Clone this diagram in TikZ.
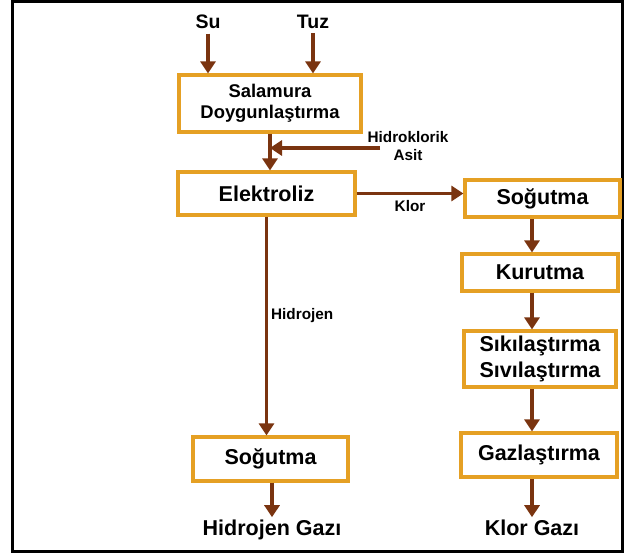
\documentclass[tikz,border=0pt]{standalone}
\usepackage{fontspec}
\setmainfont{Liberation Sans}
\usetikzlibrary{arrows.meta}
\definecolor{boxorange}{HTML}{E5A024}
\definecolor{flowbrown}{HTML}{7A3410}
\tikzset{
    box/.style={draw=boxorange, line width=3.2pt, fill=white, align=center, inner sep=0pt,
        font=\fontsize{21.5}{26}\bfseries\selectfont},
    flow/.style={draw=flowbrown, line width=3.3pt, -{Triangle[width=15pt,length=12pt]}},
    lbl/.style={font=\fontsize{15.3}{18}\bfseries\selectfont, align=center, inner sep=0pt},
    big/.style={font=\fontsize{21.5}{26}\bfseries\selectfont, inner sep=2pt},
}
\begin{document}
\begin{tikzpicture}[x=1pt, y=-1pt]
    \useasboundingbox (0, 0) rectangle (629, 553);
    \draw[line width=3pt] (12.5, 2) rectangle (622, 551);

    % Nodes
    \node[font=\fontsize{19.5}{22}\bfseries\selectfont, inner sep=4.5pt] at (208, 22) (su) {Su};
    \node[font=\fontsize{19.5}{22}\bfseries\selectfont, inner sep=4.5pt] at (313, 22) (tuz) {Tuz};
    \node[box, minimum width=182pt, minimum height=57pt,
        font=\fontsize{18.4}{21}\bfseries\selectfont] at (270, 103.5) (sal) {Salamura\\Doygunlaştırma};
    \node[box, minimum width=177pt, minimum height=43pt] at (266.5, 193.5) (elek) {Elektroliz};
    \node[box, minimum width=155pt, minimum height=37pt] at (542.5, 198.5) (sogR) {Soğutma};
    \node[box, minimum width=156pt, minimum height=37pt] at (540, 272.5) (kur) {Kurutma};
    \node[box, minimum width=152pt, minimum height=56pt] at (540, 359) (sik) {Sıkılaştırma\\Sıvılaştırma};
    \node[box, minimum width=156pt, minimum height=44pt] at (539, 455) (gaz) {Gazlaştırma};
    \node[box, minimum width=155pt, minimum height=44pt] at (270.5, 459) (sogH) {Soğutma};
    \node[big, anchor=base] at (272, 535) (hgaz) {Hidrojen Gazı};
    \node[big, anchor=base] at (532, 535) (kgaz) {Klor Gazı};
    \node[lbl] at (408, 146) (hcl) {Hidroklorik\\Asit};
    \coordinate (hclin) at (380, 148);
    \coordinate (mx) at (270, 0);
    \coordinate (rx) at (532, 0);

    % Arrows and labels
    \draw[flow] (su) -- (su |- sal.north);
    \draw[flow] (tuz) -- (tuz |- sal.north);
    \draw[flow] (sal.south -| mx) -- (elek.north -| mx);
    \draw[flow] (hclin) -- (hclin -| mx);
    \draw[flow] (elek.east) -- (elek.east -| sogR.west) node[midway, below=5pt, lbl] {Klor};
    \draw[flow] (elek.south) -- (elek.south |- sogH.north) node[pos=0.45, right=3pt, lbl] {Hidrojen};
    \draw[flow] (sogH.south -| hgaz.north) -- (hgaz.north);
    \draw[flow] (sogR.south -| rx) -- (kur.north -| rx);
    \draw[flow] (kur.south -| rx) -- (sik.north -| rx);
    \draw[flow] (sik.south -| rx) -- (gaz.north -| rx);
    \draw[flow] (gaz.south -| kgaz.north) -- (kgaz.north);
\end{tikzpicture}
\end{document}
